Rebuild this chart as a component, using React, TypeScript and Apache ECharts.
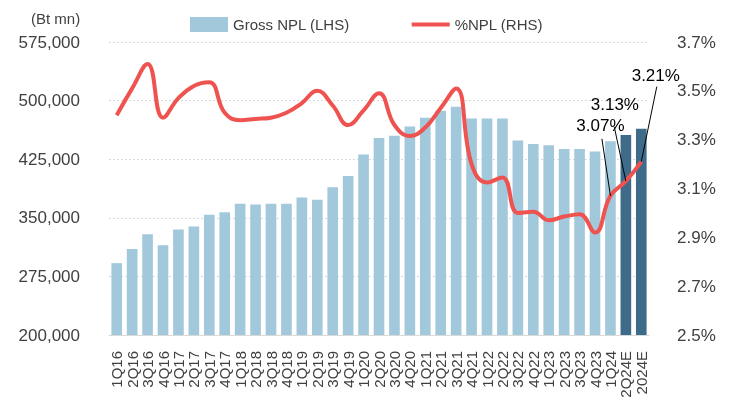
import React, { useEffect, useRef } from "react";
import * as echarts from "echarts";

const categories = [
  "1Q16", "2Q16", "3Q16", "4Q16", "1Q17", "2Q17", "3Q17", "4Q17",
  "1Q18", "2Q18", "3Q18", "4Q18", "1Q19", "2Q19", "3Q19", "4Q19",
  "1Q20", "2Q20", "3Q20", "4Q20", "1Q21", "2Q21", "3Q21", "4Q21",
  "1Q22", "2Q22", "3Q22", "4Q22", "1Q23", "2Q23", "3Q23", "4Q23",
  "1Q24", "2Q24E", "2024E",
];

const grossNpl = [
  292000, 310000, 329000, 315000, 335000, 339000, 354000, 357000,
  368000, 367000, 368000, 368000, 376000, 373000, 389000, 403500,
  431000, 452000, 455000, 467000, 478000, 487000, 492000, 477000,
  477000, 477000, 449000, 444500, 443000, 438000, 438000, 435000,
  448000, 456000, 464000,
];

const nplRatio = [
  3.40, 3.51, 3.61, 3.39, 3.47, 3.52, 3.535, 3.41,
  3.38, 3.385, 3.39, 3.41, 3.45, 3.50, 3.44, 3.36,
  3.42, 3.49, 3.36, 3.315, 3.35, 3.43, 3.51, 3.20,
  3.125, 3.145, 3.00, 3.005, 2.97, 2.985, 2.995, 2.92,
  3.07, 3.13, 3.21,
];

const leftTicks = { min: 200000, max: 575000, interval: 75000 };
const rightTicks = { min: 2.5, max: 3.7, interval: 0.2 };

const calloutIndices = [32, 33, 34];
// offsets (px) of the text centre and leader-line end relative to the point
const calloutOffsets = [
  { tx: -10, ty: -70, lx: -8.5, ly: -57 },
  { tx: -11, ty: -77, lx: -11.5, ly: -54 },
  { tx: 14.5, ty: -86, lx: 15.5, ly: -75 },
];

const FONT = "'Liberation Sans', Arial, Helvetica, sans-serif";
const LIGHT = "#A2C8DC";
const DARK = "#3F6B8B";
const RED = "#EF5350";
const TEXT = "#404040";

export default function App() {
  const ref = useRef<HTMLDivElement | null>(null);

  useEffect(() => {
    if (!ref.current) return;
    const chart = echarts.init(ref.current, undefined, { renderer: "svg" });
    const option: any = {
      animation: false,
      textStyle: { fontFamily: FONT },
      title: {
        text: "(Bt mn)",
        left: 26,
        top: 6,
        textStyle: { fontSize: 15, fontWeight: "normal", color: TEXT, fontFamily: FONT },
      },
      legend: {
        left: 185,
        top: 12,
        itemWidth: 38,
        itemHeight: 15,
        itemGap: 62,
        textStyle: { fontSize: 15, color: TEXT, fontFamily: FONT },
        data: [
          { name: "Gross NPL (LHS)", icon: "rect", itemStyle: { color: LIGHT } },
          {
            name: "%NPL (RHS)",
            icon: "path://M0,0H38V4H0Z",
            itemStyle: { color: RED },
          },
        ],
      },
      grid: { left: 109, right: 82, top: 42, bottom: 72 },
      xAxis: {
        type: "category",
        data: categories,
        axisLine: { show: true, lineStyle: { color: "#d9d9d9", width: 1 } },
        axisTick: { show: false },
        axisLabel: {
          interval: 0,
          rotate: 90,
          fontSize: 15,
          color: TEXT,
          margin: 16,
          fontFamily: FONT,
        },
      },
      yAxis: [
        {
          type: "value",
          min: leftTicks.min,
          max: leftTicks.max,
          interval: leftTicks.interval,
          axisLine: { show: false },
          axisTick: { show: false },
          splitLine: { show: true, lineStyle: { color: "#d9d9d9", type: [2, 2], width: 1 } },
          axisLabel: {
            fontSize: 17,
            color: TEXT,
            margin: 29,
            fontFamily: FONT,
            formatter: (v: number) => v.toLocaleString("en-US"),
          },
        },
        {
          type: "value",
          min: rightTicks.min,
          max: rightTicks.max,
          interval: rightTicks.interval,
          axisLine: { show: false },
          axisTick: { show: false },
          splitLine: { show: false },
          axisLabel: {
            fontSize: 17,
            color: TEXT,
            margin: 28,
            fontFamily: FONT,
            formatter: (v: number) => v.toFixed(1) + "%",
          },
        },
      ],
      series: [
        {
          name: "Gross NPL (LHS)",
          type: "bar",
          yAxisIndex: 0,
          barCategoryGap: "31%",
          data: grossNpl.map((v, i) => ({
            value: v,
            itemStyle: { color: categories[i].endsWith("E") ? DARK : LIGHT },
          })),
          itemStyle: { color: LIGHT },
        },
        {
          name: "%NPL (RHS)",
          type: "line",
          yAxisIndex: 1,
          data: nplRatio,
          smooth: 0.45,
          symbol: "none",
          showSymbol: false,
          lineStyle: { color: RED, width: 4 },
          itemStyle: { color: RED },
          z: 5,
        },
      ],
    };
    chart.setOption(option);

    const elements: any[] = [];
    calloutIndices.forEach((idx, k) => {
      const p = chart.convertToPixel({ seriesIndex: 1 }, [idx, nplRatio[idx]]) as number[];
      const o = calloutOffsets[k];
      elements.push({
        type: "line",
        z: 10,
        shape: { x1: p[0], y1: p[1], x2: p[0] + o.lx, y2: p[1] + o.ly },
        style: { stroke: "#000", lineWidth: 1 },
      });
      elements.push({
        type: "text",
        z: 11,
        x: p[0] + o.tx,
        y: p[1] + o.ty,
        style: {
          text: nplRatio[idx].toFixed(2) + "%",
          fontSize: 17,
          fontFamily: FONT,
          fill: "#000",
          align: "center",
          verticalAlign: "middle",
        },
      });
    });
    chart.setOption({ graphic: elements });

    return () => chart.dispose();
  }, []);

  return (
    <div
      ref={ref}
      style={{ position: "fixed", left: 0, top: 0, width: 731, height: 407 }}
    />
  );
}
